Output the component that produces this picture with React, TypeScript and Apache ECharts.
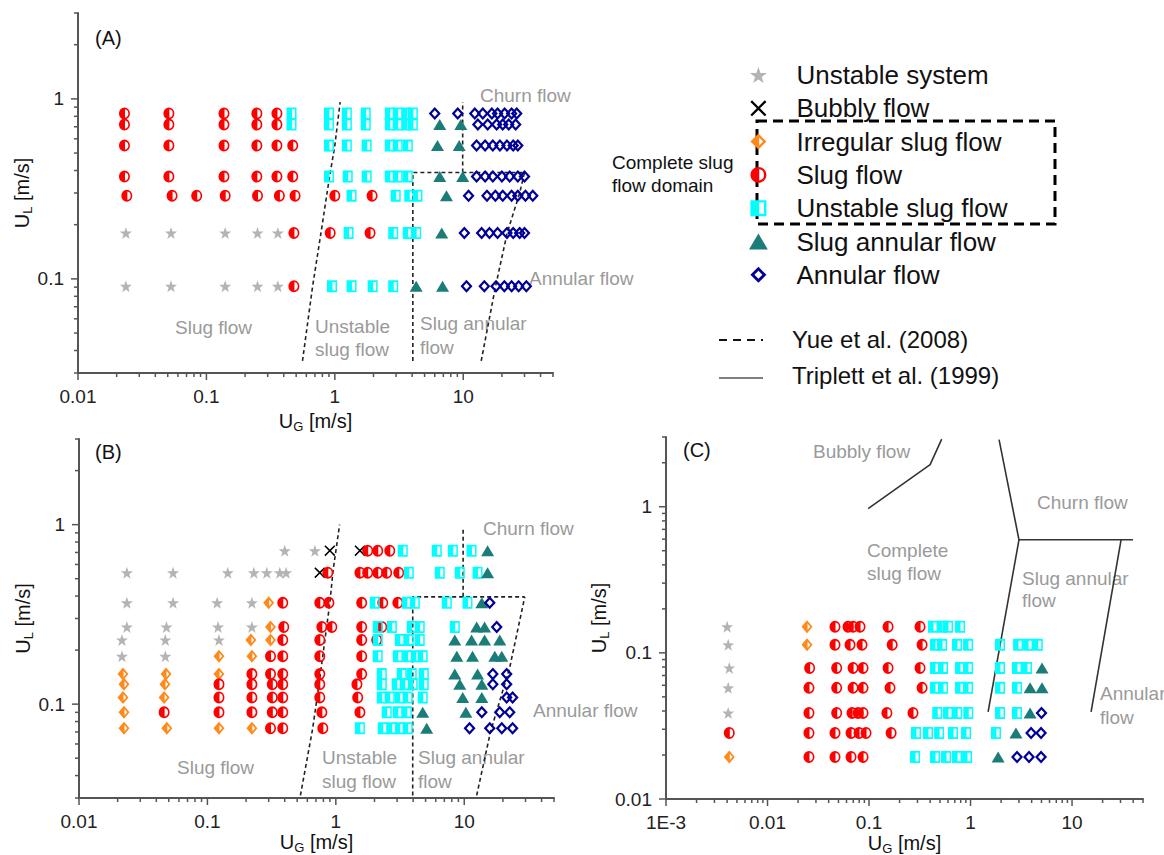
import React, { useEffect, useRef } from 'react';
import * as echarts from 'echarts';

type Row = [number, number[]];
type Pt = [number, number];

// ---------- Panel A ----------
const A_STAR: Row[] = [
  [0.18, [0.0236, 0.053, 0.14, 0.25, 0.36]],
  [0.091, [0.0236, 0.053, 0.14, 0.25, 0.36]],
];
const A_SLUG: Row[] = [
  [0.83, [0.023, 0.051, 0.137, 0.247, 0.354]],
  [0.72, [0.023, 0.051, 0.137, 0.247, 0.354]],
  [0.55, [0.023, 0.051, 0.137, 0.247, 0.354, 0.47]],
  [0.37, [0.023, 0.051, 0.137, 0.247, 0.354, 0.47]],
  [0.29, [0.024, 0.054, 0.084, 0.14, 0.25, 0.37, 0.49, 1.0, 1.95]],
  [0.18, [0.48, 0.92, 1.88]],
  [0.091, [0.48]],
];
const A_USLUG: Row[] = [
  [0.83, [0.46, 0.9, 1.24, 1.74, 2.68, 3.09, 3.63, 4.05]],
  [0.72, [0.46, 0.9, 1.24, 1.74, 2.68, 3.09, 3.63, 4.05]],
  [0.55, [0.9, 1.24, 1.77, 2.68, 3.09, 3.7]],
  [0.37, [0.9, 1.26, 1.77, 2.68, 3.09, 3.7]],
  [0.29, [1.35, 2.98, 3.8, 4.4]],
  [0.18, [1.28, 2.85, 3.7, 4.3]],
  [0.091, [0.95, 1.35, 1.97, 2.85]],
];
const A_SA: Row[] = [
  [0.72, [6.56, 9.57]],
  [0.55, [6.3, 9.3]],
  [0.37, [6.56, 9.9]],
  [0.29, [7.4]],
  [0.18, [6.8]],
  [0.091, [4.3, 6.9]],
];
const A_ANN: Row[] = [
  [0.83, [6.0, 9.06, 12.3, 14.2, 16.7, 18.5, 21.0, 23.8, 26.1]],
  [0.72, [13.0, 15.5, 18.2, 20.3, 22.6, 25.6]],
  [0.55, [12.7, 14.8, 17.0, 19.3, 21.9, 24.5, 26.6]],
  [0.37, [12.7, 14.8, 17.0, 20.0, 23.0, 26.6, 30.0]],
  [0.29, [11.0, 15.3, 17.8, 20.3, 23.8, 26.6, 30.5, 34.8]],
  [0.18, [10.2, 13.9, 16.0, 18.5, 21.9, 24.5, 27.5, 30.0]],
  [0.091, [10.6, 14.6, 18.0, 20.9, 23.8, 27.0, 31.0]],
];
const A_YUE1: Pt[] = [[0.56, 0.035], [0.67, 0.09], [0.78, 0.18], [0.91, 0.37], [1.0, 0.55], [1.1, 0.96]];
const A_YUE2: Pt[] = [[4.05, 0.035], [4.05, 0.39], [30, 0.39]];
const A_YUE3: Pt[] = [[9.9, 0.39], [9.9, 0.96]];
const A_YUE4: Pt[] = [[13.8, 0.035], [17.8, 0.09], [22, 0.18], [27.5, 0.3], [30, 0.39]];

// ---------- Panel B ----------
const B_STAR: Row[] = [
  [0.716, [0.4, 0.687]],
  [0.54, [0.0236, 0.054, 0.144, 0.23, 0.29, 0.366, 0.41]],
  [0.367, [0.0236, 0.054, 0.119, 0.222]],
  [0.269, [0.0236, 0.048, 0.121, 0.222]],
  [0.228, [0.0216, 0.047, 0.123]],
  [0.185, [0.0216, 0.047]],
];
const B_BUBBLY: Pt[] = [[0.898, 0.716], [1.54, 0.716], [0.75, 0.54]];
const B_IRR: Row[] = [
  [0.367, [0.3]],
  [0.269, [0.31]],
  [0.228, [0.218, 0.31]],
  [0.185, [0.123, 0.222]],
  [0.147, [0.022, 0.0476, 0.123]],
  [0.129, [0.0224, 0.0467]],
  [0.109, [0.022, 0.046]],
  [0.09, [0.0224]],
  [0.0734, [0.0224, 0.0483, 0.123, 0.222]],
];
const B_SLUG: Row[] = [
  [0.716, [1.77, 2.12, 2.63]],
  [0.54, [0.866, 1.54, 1.77, 2.12, 2.49, 3.09]],
  [0.367, [0.386, 0.75, 0.883, 1.59, 2.32, 3.04]],
  [0.269, [0.393, 0.778, 0.931, 1.59, 2.28]],
  [0.228, [0.386, 0.75, 1.59, 2.08]],
  [0.185, [0.31, 0.386, 0.75, 1.59]],
  [0.147, [0.222, 0.31, 0.386, 0.75, 1.59]],
  [0.129, [0.123, 0.222, 0.32, 0.386, 0.75, 1.46]],
  [0.109, [0.123, 0.222, 0.32, 0.386, 0.75, 1.48]],
  [0.09, [0.046, 0.123, 0.222, 0.32, 0.386, 0.778, 1.54]],
  [0.0734, [0.31, 0.386, 0.792]],
];
const B_USLUG: Row[] = [
  [0.716, [3.32, 6.11, 8.15, 11.4]],
  [0.54, [3.7, 6.45, 9.23, 12.7]],
  [0.367, [2.01, 3.57, 4.12, 7.31, 10.6]],
  [0.269, [2.12, 2.73, 3.9, 4.5, 8.44]],
  [0.228, [2.12, 3.15, 3.7, 4.5]],
  [0.185, [2.12, 3.04, 3.63, 4.19, 4.75]],
  [0.147, [2.28, 3.26, 3.9, 4.84]],
  [0.129, [2.28, 2.98, 3.44, 3.97, 4.84]],
  [0.109, [2.28, 2.63, 3.15, 3.63, 4.75]],
  [0.09, [2.49, 3.04, 3.57]],
  [0.0734, [1.54, 2.32, 2.73, 3.15, 3.63]],
];
const B_SA: Row[] = [
  [0.716, [15.2]],
  [0.54, [15.2]],
  [0.367, [13.7]],
  [0.269, [12.5, 14.4]],
  [0.228, [8.44, 11.4, 14.4, 18.9]],
  [0.185, [8.75, 11.6, 17.3, 19.6]],
  [0.147, [8.44, 12.7]],
  [0.129, [9.23, 13.7]],
  [0.109, [9.73, 13.7]],
  [0.09, [4.75, 10.3]],
  [0.0734, [5.1]],
];
const B_ANN: Row[] = [
  [0.367, [15.8]],
  [0.269, [17.9]],
  [0.147, [16.7, 21.4]],
  [0.129, [16.7, 21.4]],
  [0.109, [21.4, 23.8]],
  [0.09, [13.7, 18.9, 22.6]],
  [0.0734, [11.0, 15.8, 19.6, 23.8]],
];
const B_YUE1: Pt[] = [[0.53, 0.031], [0.66, 0.073], [0.74, 0.13], [0.9, 0.37], [0.95, 0.55], [1.07, 1.0]];
const B_YUE2: Pt[] = [[3.97, 0.031], [3.97, 0.396], [29.6, 0.396]];
const B_YUE3: Pt[] = [[9.8, 0.396], [9.8, 0.94]];
const B_YUE4: Pt[] = [[12.5, 0.031], [16, 0.07], [22.6, 0.16], [29.6, 0.396]];

// ---------- Panel C ----------
const C_STAR: Pt[] = [[0.004, 0.151], [0.0041, 0.1135], [0.0042, 0.0789], [0.0041, 0.0576], [0.0041, 0.0388]];
const C_IRR: Pt[] = [[0.0245, 0.151], [0.0245, 0.1135], [0.0042, 0.0194]];
const C_SLUG: Row[] = [
  [0.151, [0.0462, 0.0621, 0.0696, 0.0815, 0.154, 0.318]],
  [0.1135, [0.0462, 0.065, 0.0853, 0.169, 0.333]],
  [0.0789, [0.026, 0.048, 0.0696, 0.0873, 0.154, 0.318]],
  [0.0576, [0.0256, 0.048, 0.0696, 0.0873, 0.161, 0.333]],
  [0.0388, [0.0256, 0.048, 0.068, 0.078, 0.0873, 0.15, 0.271]],
  [0.0283, [0.0042, 0.0256, 0.0462, 0.0665, 0.0797, 0.0934, 0.165]],
  [0.0194, [0.0256, 0.0462, 0.0665, 0.0873]],
];
const C_USLUG: Row[] = [
  [0.151, [0.427, 0.524, 0.6, 0.788]],
  [0.1135, [0.447, 0.524, 0.736, 0.945, 1.95, 2.94, 3.69, 4.6]],
  [0.0789, [0.447, 0.536, 0.788, 0.945, 1.95, 2.87, 3.6]],
  [0.0576, [0.447, 0.536, 0.788, 0.945, 1.95, 2.87]],
  [0.0388, [0.47, 0.6, 0.74, 0.95, 1.95, 2.87]],
  [0.0283, [0.29, 0.381, 0.49, 0.672, 0.903, 1.78]],
  [0.0194, [0.284, 0.447, 0.574, 0.736, 0.924]],
];
const C_SA: Pt[] = [[5.06, 0.0789], [3.86, 0.0576], [5.06, 0.0576], [3.86, 0.0388], [2.8, 0.0283], [1.87, 0.0194]];
const C_ANN: Pt[] = [[5.0, 0.0388], [3.95, 0.0283], [4.95, 0.0283], [2.87, 0.0194], [3.77, 0.0194], [4.95, 0.0194]];
const C_TRI1: Pt[] = [[0.098, 0.97], [0.4, 1.94], [0.52, 2.9]];
const C_TRI2: Pt[] = [[1.91, 2.88], [3.0, 0.594], [39.9, 0.594]];
const C_TRI3: Pt[] = [[3.0, 0.594], [1.49, 0.0394]];
const C_TRI4: Pt[] = [[30.4, 0.594], [15.4, 0.0394]];

// axis ranges
const X_RANGES: Pt[] = [[0.01, 50], [0.01, 50], [0.001, 50]];
const Y_RANGES: Pt[] = [[0.03, 3], [0.03, 3], [0.01, 3]];

// ---------- symbols ----------
const STAR = 'path://M10 0.5L12.35 7.26L19.51 7.41L13.8 11.74L15.88 18.59L10 14.5L4.12 18.59L6.2 11.74L0.49 7.41L7.65 7.26Z';
const CROSS = 'path://M0 2L2 0L10 8L18 0L20 2L12 10L20 18L18 20L10 12L2 20L0 18L8 10Z';
const DIAMOND_HALF = 'path://M10 0L20 10L10 20L0 10ZM11 5.2L11 14.8L15.8 10Z';
const CIRCLE_HALF = 'path://M10 0A10 10 0 1 1 10 20A10 10 0 1 1 10 0ZM11 3.07L11 16.93A7 7 0 0 0 11 3.07Z';
const SQUARE_HALF = 'path://M0 0H20V20H0ZM11 3V17H17V3Z';
const TRIANGLE = 'path://M10 0L20 17L0 17Z';
const DIAMOND_HOLLOW = 'path://M10 0L20 10L10 20L0 10ZM10 5L5 10L10 15L15 10Z';

const FONT = '"Liberation Sans", Arial, Helvetica, sans-serif';

const pts = (rows: Row[]): Pt[] => rows.flatMap(([y, xs]) => xs.map((x) => [x, y] as Pt));

const CATS = [
  { key: 'star', name: 'Unstable system', symbol: STAR, size: [12, 12], color: '#b4b4b4' },
  { key: 'bubbly', name: 'Bubbly flow', symbol: CROSS, size: [11, 11], color: '#000000' },
  { key: 'irr', name: 'Irregular slug flow', symbol: DIAMOND_HALF, size: [11, 13], color: '#ff8a1c' },
  { key: 'slug', name: 'Slug flow', symbol: CIRCLE_HALF, size: [11, 12], color: '#ff0000' },
  { key: 'uslug', name: 'Unstable slug flow', symbol: SQUARE_HALF, size: [10, 12], color: '#00ffff' },
  { key: 'sa', name: 'Slug annular flow', symbol: TRIANGLE, size: [13, 11], color: '#1b7d78' },
  { key: 'ann', name: 'Annular flow', symbol: DIAMOND_HOLLOW, size: [12, 13], color: '#000099' },
];

const PANELS: Record<string, Pt[]>[] = [
  { star: pts(A_STAR), bubbly: [], irr: [], slug: pts(A_SLUG), uslug: pts(A_USLUG), sa: pts(A_SA), ann: pts(A_ANN) },
  { star: pts(B_STAR), bubbly: B_BUBBLY, irr: pts(B_IRR), slug: pts(B_SLUG), uslug: pts(B_USLUG), sa: pts(B_SA), ann: pts(B_ANN) },
  { star: C_STAR, bubbly: [], irr: C_IRR, slug: pts(C_SLUG), uslug: pts(C_USLUG), sa: C_SA, ann: C_ANN },
];
const DASHED: Pt[][][] = [[A_YUE1, A_YUE2, A_YUE3, A_YUE4], [B_YUE1, B_YUE2, B_YUE3, B_YUE4], []];
const SOLID: Pt[][][] = [[], [], [C_TRI1, C_TRI2, C_TRI3, C_TRI4]];

// log-axis tick positions (axis decoration: 1..9 x 10^n inside range)
function logTicks(min: number, max: number): [number, boolean][] {
  const out: [number, boolean][] = [];
  for (let d = Math.floor(Math.log10(min)); d <= Math.ceil(Math.log10(max)); d++) {
    for (let k = 1; k <= 9; k++) {
      const v = parseFloat((k * Math.pow(10, d)).toPrecision(6));
      if (v >= min * 0.999 && v <= max * 1.001) out.push([v, k === 1]);
    }
  }
  return out;
}

const fmt = (v: number) => {
  const l = Math.log10(v);
  const r = Math.round(l);
  if (Math.abs(l - r) > 1e-6) return '';
  if (r <= -3) return '1E' + r;
  return r < 0 ? v.toFixed(-r) : String(Math.round(v));
};

const nameRich = {
  a: { fontSize: 20, lineHeight: 24, color: '#111', fontFamily: FONT, verticalAlign: 'middle' },
  b: { fontSize: 13, lineHeight: 13, color: '#111', fontFamily: FONT, verticalAlign: 'bottom' },
};

const GRIDS = [
  { left: 78, top: 13, width: 475, height: 360 },
  { left: 79, top: 439, width: 475, height: 359 },
  { left: 666, top: 437, width: 477, height: 362 },
];
const X_NAME_GAP = [36, 29, 27];
const Y_NAME_GAP = [44, 44, 36];

const GRAY = '#9a9a9a';
const LABELS: [string, number, number][] = [
  ['Churn flow', 480, 95], ['Annular flow', 529, 278], ['Slug flow', 175, 327],
  ['Unstable', 315, 326], ['slug flow', 315, 349], ['Slug annular', 420, 323], ['flow', 420, 347],
  ['Churn flow', 483, 528], ['Annular flow', 533, 710], ['Slug flow', 177, 767],
  ['Unstable', 322, 757], ['slug flow', 322, 781], ['Slug annular', 418, 757], ['flow', 418, 781],
  ['Bubbly flow', 813, 451], ['Churn flow', 1037, 502], ['Complete', 867, 550], ['slug flow', 867, 573],
  ['Slug annular', 1022, 578], ['flow', 1022, 600], ['Annular', 1100, 693], ['flow', 1100, 717],
];
const PANEL_TAGS: [string, number, number][] = [['(A)', 95, 38], ['(B)', 95, 452], ['(C)', 683, 450]];

export default function App() {
  const ref = useRef<HTMLDivElement>(null);
  useEffect(() => {
    if (!ref.current) return;
    const chart = echarts.init(ref.current, undefined, { renderer: 'svg' });

    const series: any[] = [];
    PANELS.forEach((panel, i) => {
      DASHED[i].forEach((d, j) => series.push({
        type: 'line', name: 'yue' + i + j, xAxisIndex: i, yAxisIndex: i, data: d, symbol: 'none', silent: true, z: 1,
        lineStyle: { color: '#222', width: 1.6, type: [4, 3] },
      }));
      SOLID[i].forEach((d, j) => series.push({
        type: 'line', name: 'tri' + i + j, xAxisIndex: i, yAxisIndex: i, data: d, symbol: 'none', silent: true, z: 1,
        lineStyle: { color: '#333', width: 1.6 },
      }));
      CATS.forEach((c) => {
        const data = panel[c.key];
        if (!data || !data.length) return;
        series.push({
          type: 'scatter', name: c.name, xAxisIndex: i, yAxisIndex: i, data,
          symbol: c.symbol, symbolSize: c.size, itemStyle: { color: c.color, opacity: 1 }, z: 3,
        });
      });
      const [x0, x1] = X_RANGES[i];
      const [y0, y1] = Y_RANGES[i];
      const tickData: number[][] = [];
      logTicks(x0, x1).forEach(([v, major]) => tickData.push([v, y0, major ? 0 : 1]));
      logTicks(y0, y1).forEach(([v, major]) => tickData.push([x0, v, major ? 2 : 3]));
      series.push({
        type: 'custom', name: 'ticks' + i, xAxisIndex: i, yAxisIndex: i, data: tickData, silent: true, clip: false, z: 4,
        renderItem: (_p: any, api: any) => {
          const k = api.value(2);
          const p = api.coord([api.value(0), api.value(1)]);
          const len = k % 2 === 0 ? 7 : 4;
          const shape = k < 2
            ? { x1: p[0], y1: p[1], x2: p[0], y2: p[1] + len }
            : { x1: p[0], y1: p[1], x2: p[0] - len, y2: p[1] };
          return { type: 'line', shape, style: { stroke: '#555', lineWidth: 1.5 } };
        },
      });
    });

    const axisCommon = {
      type: 'log', logBase: 10,
      axisLine: { show: true, onZero: false, lineStyle: { color: '#555', width: 2 } },
      axisTick: { show: false }, minorTick: { show: false }, splitLine: { show: false },
      nameLocation: 'middle',
    };

    const graphic: any[] = [];
    LABELS.forEach(([t, x, y]) => graphic.push({
      type: 'text', x, y, silent: true,
      style: { text: t, fill: GRAY, fontSize: 19, fontFamily: FONT, align: 'left', verticalAlign: 'middle' },
    }));
    PANEL_TAGS.forEach(([t, x, y]) => graphic.push({
      type: 'text', x, y, silent: true,
      style: { text: t, fill: '#111', fontSize: 20, fontFamily: FONT, align: 'left', verticalAlign: 'middle' },
    }));
    graphic.push(
      { type: 'rect', silent: true, shape: { x: 757, y: 121, width: 298, height: 103 },
        style: { fill: 'none', stroke: '#000', lineWidth: 3, lineDash: [10, 6] } },
      { type: 'text', x: 612, y: 162, silent: true, style: { text: 'Complete slug', fill: '#111', fontSize: 19, fontFamily: FONT, verticalAlign: 'middle' } },
      { type: 'text', x: 612, y: 185, silent: true, style: { text: 'flow domain', fill: '#111', fontSize: 19, fontFamily: FONT, verticalAlign: 'middle' } },
      { type: 'line', silent: true, shape: { x1: 719, y1: 340, x2: 763, y2: 340 }, style: { stroke: '#111', lineWidth: 2, lineDash: [8, 6] } },
      { type: 'text', x: 792, y: 339, silent: true, style: { text: 'Yue et al. (2008)', fill: '#111', fontSize: 24, fontFamily: FONT, verticalAlign: 'middle' } },
      { type: 'line', silent: true, shape: { x1: 719, y1: 378, x2: 763, y2: 378 }, style: { stroke: '#555', lineWidth: 1.5 } },
      { type: 'text', x: 792, y: 375, silent: true, style: { text: 'Triplett et al. (1999)', fill: '#111', fontSize: 24, fontFamily: FONT, verticalAlign: 'middle' } },
    );

    chart.setOption({
      animation: false,
      textStyle: { fontFamily: FONT },
      grid: GRIDS.map((g) => ({ ...g, containLabel: false, outerBoundsMode: 'none' })),
      xAxis: GRIDS.map((_g, i) => ({
        ...axisCommon, gridIndex: i, min: X_RANGES[i][0], max: X_RANGES[i][1],
        axisLabel: { formatter: fmt, fontSize: 19, color: '#222', margin: 14, fontFamily: FONT },
        name: '{a|U}{b|G}{a| [m/s]}', nameGap: X_NAME_GAP[i], nameTextStyle: { rich: nameRich },
      })),
      yAxis: GRIDS.map((_g, i) => ({
        ...axisCommon, gridIndex: i, min: Y_RANGES[i][0], max: Y_RANGES[i][1],
        axisLabel: { formatter: fmt, fontSize: 19, color: '#222', margin: 14, fontFamily: FONT },
        name: '{a|U}{b|L}{a| [m/s]}', nameGap: Y_NAME_GAP[i], nameTextStyle: { rich: nameRich },
      })),
      legend: {
        orient: 'vertical', left: 744, top: 57, itemWidth: 66, itemHeight: 16, itemGap: 7.3,
        symbolKeepAspect: true, selectedMode: false,
        textStyle: { fontSize: 26, lineHeight: 26, color: '#111', fontFamily: FONT },
        data: CATS.map((c) => ({ name: c.name, icon: c.symbol })),
      },
      graphic,
      series,
    });
    return () => chart.dispose();
  }, []);
  return <div ref={ref} style={{ position: 'absolute', left: 0, top: 0, width: 1164, height: 855, background: '#fff' }} />;
}
